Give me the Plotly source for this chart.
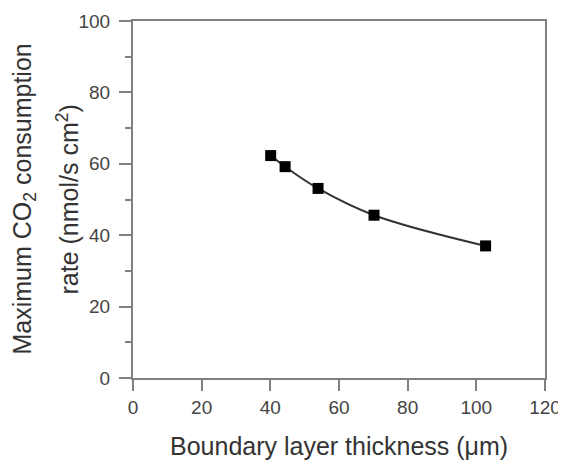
import plotly.graph_objects as go

thickness_um = [40.1, 44.3, 53.9, 70.2, 102.7]
co2_rate = [62.3, 59.2, 53.1, 45.6, 37.0]

x_ticks = [0, 20, 40, 60, 80, 100, 120]
y_ticks = [0, 20, 40, 60, 80, 100]

axis_col = "#808080"
font_fam = "Liberation Sans, Arial, sans-serif"

fig = go.Figure()
fig.add_trace(go.Scatter(
    x=thickness_um, y=co2_rate, mode="lines+markers",
    line=dict(color="#333333", width=2, shape="spline", smoothing=1.0),
    marker=dict(symbol="square", size=11, color="#000000"),
    showlegend=False,
))

# page body has an 8px margin, so the figure is sized to fill the rest of the window
fig.update_layout(
    width=558, height=453,
    margin=dict(l=125, r=21, t=13, b=83, autoexpand=False),
    paper_bgcolor="white", plot_bgcolor="white",
    font=dict(family=font_fam, color="#3a3a3a", size=19),
)
fig.update_xaxes(
    range=[0, 120], tickvals=x_ticks, ticks="outside", ticklen=11, tickwidth=1.5,
    tickcolor=axis_col, showline=True, linecolor=axis_col, linewidth=2, mirror=True,
    showgrid=False, zeroline=False, tickfont=dict(size=19, color="#444444"),
    automargin=False,
)
fig.update_yaxes(
    range=[0, 100], tickvals=y_ticks, ticks="outside", ticklen=12, tickwidth=1.5,
    tickcolor=axis_col, showline=True, linecolor=axis_col, linewidth=2, mirror=True,
    showgrid=False, zeroline=False, tickfont=dict(size=19, color="#444444"),
    ticklabelstandoff=5,
    minor=dict(dtick=10, ticks="outside", ticklen=6, tickwidth=1.5, tickcolor=axis_col, showgrid=False),
    automargin=False,
)

fig.add_annotation(
    text="Boundary layer thickness (μm)", xref="paper", yref="paper",
    x=0.5, y=0, yshift=-68, xanchor="center", yanchor="middle", showarrow=False,
    font=dict(size=25, color="#333333"),
)
fig.add_annotation(
    text="Maximum CO<sub>2</sub> consumption", xref="paper", yref="paper",
    x=0, y=0.5, xshift=-110, xanchor="center", yanchor="middle", textangle=-90,
    showarrow=False, font=dict(size=25, color="#333333"),
)
fig.add_annotation(
    text="rate (nmol/s cm<sup>2</sup>)", xref="paper", yref="paper",
    x=0, y=0.5, xshift=-66, xanchor="center", yanchor="middle", textangle=-90,
    showarrow=False, font=dict(size=25, color="#333333"),
)

fig.write_html("out.html")
